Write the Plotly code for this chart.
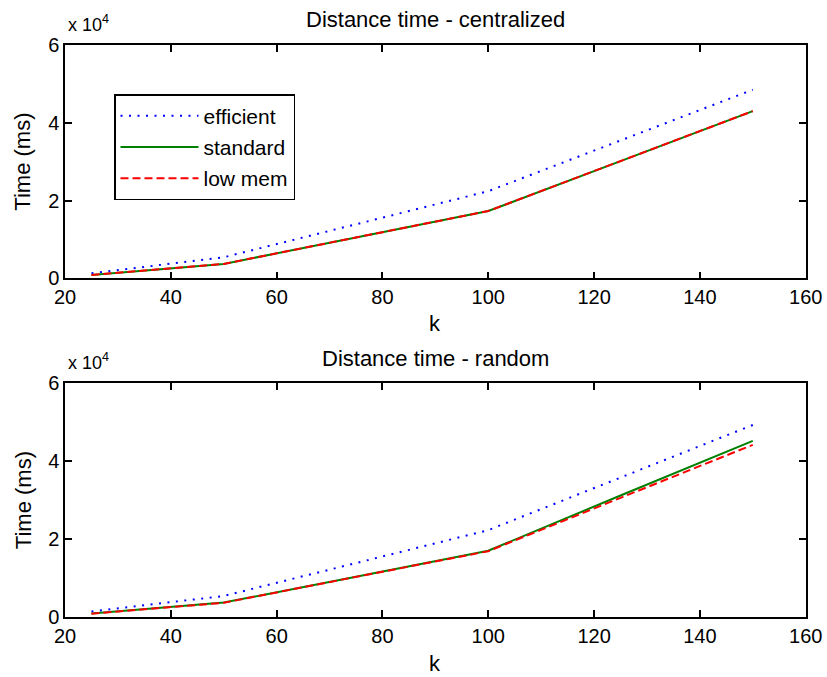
import plotly.graph_objects as go

# ---- data ----
k = [25, 50, 75, 100, 125, 150]

cent_efficient = [1300, 5400, 13900, 22400, 35450, 48500]
cent_standard = [850, 3700, 10500, 17300, 30150, 43000]
cent_lowmem = [850, 3700, 10500, 17300, 30150, 43000]

rand_efficient = [1400, 5400, 13850, 22300, 35800, 49300]
rand_standard = [900, 3700, 10350, 17000, 31200, 45200]
rand_lowmem = [850, 3650, 10300, 16900, 30600, 44200]

series_names = ["efficient", "standard", "low mem"]
x_tickvals = [20, 40, 60, 80, 100, 120, 140, 160]
y_tickvals = [0, 20000, 40000, 60000]
y_ticktext = ["0", "2", "4", "6"]

W, H = 827, 677
FONT = "Liberation Sans, Arial, sans-serif"

styles = [
    dict(color="#0000ff", width=2, dash="2px,6.5px"),
    dict(color="#008000", width=2, dash="solid"),
    dict(color="#ff0000", width=2, dash="8px,4px"),
]

fig = go.Figure()

top = [cent_efficient, cent_standard, cent_lowmem]
bot = [rand_efficient, rand_standard, rand_lowmem]
for i, (name, ys) in enumerate(zip(series_names, top)):
    fig.add_trace(go.Scatter(x=k, y=ys, mode="lines", name=name, line=styles[i],
                             xaxis="x", yaxis="y", legendgroup=name, showlegend=True))
for i, (name, ys) in enumerate(zip(series_names, bot)):
    fig.add_trace(go.Scatter(x=k, y=ys, mode="lines", name=name, line=styles[i],
                             xaxis="x2", yaxis="y2", showlegend=False))

# plot area positions (pixels)
xl, xr = 65, 805.7
t_top, t_bot = 45, 278.3
b_top, b_bot = 383.3, 617

def px_x(p):
    return p / W

def px_y(p):
    return 1 - p / H

axis_common = dict(showline=True, linecolor="black", linewidth=1.5, mirror="ticks",
                   ticks="inside", ticklen=7, tickwidth=1.5, tickcolor="black",
                   showgrid=False, zeroline=False, automargin=False,
                   tickfont=dict(family=FONT, size=20, color="black"))

fig.update_layout(
    width=W, height=H,
    margin=dict(l=0, r=0, t=0, b=0, autoexpand=False),
    paper_bgcolor="white", plot_bgcolor="white",
    font=dict(family=FONT, color="black"),
    xaxis=dict(domain=[px_x(xl), px_x(xr)], anchor="y", range=[20, 160],
               tickvals=x_tickvals, **axis_common),
    yaxis=dict(domain=[px_y(t_bot), px_y(t_top)], anchor="x", range=[0, 60000],
               tickvals=y_tickvals, ticktext=y_ticktext, **axis_common),
    xaxis2=dict(domain=[px_x(xl), px_x(xr)], anchor="y2", range=[20, 160],
                tickvals=x_tickvals, **axis_common),
    yaxis2=dict(domain=[px_y(b_bot), px_y(b_top)], anchor="x2", range=[0, 60000],
                tickvals=y_tickvals, ticktext=y_ticktext, **axis_common),
    legend=dict(x=px_x(114), y=px_y(94), xanchor="left", yanchor="top",
                bordercolor="black", borderwidth=1.5, bgcolor="white",
                font=dict(family=FONT, size=21, color="black"),
                itemwidth=78, tracegroupgap=1),
    showlegend=True,
)

cx = px_x((xl + xr) / 2)
ann = []
for (ttl, ycen, kyc, top_px, bot_px) in [
    ("Distance time - centralized", 19.5, 324, t_top, t_bot),
    ("Distance time - random", 358, 663, b_top, b_bot),
]:
    ann.append(dict(text=ttl, x=cx, y=px_y(ycen), xref="paper", yref="paper",
                    xanchor="center", yanchor="middle", showarrow=False,
                    font=dict(family=FONT, size=22, color="black")))
    ann.append(dict(text="k", x=cx, y=px_y(kyc), xref="paper", yref="paper",
                    xanchor="center", yanchor="middle", showarrow=False,
                    font=dict(family=FONT, size=22, color="black")))
    ann.append(dict(text="Time (ms)", x=px_x(23), y=px_y((top_px + bot_px) / 2),
                    xref="paper", yref="paper", xanchor="center", yanchor="middle",
                    textangle=-90, showarrow=False,
                    font=dict(family=FONT, size=22, color="black")))
    ann.append(dict(text="x 10<sup>4</sup>", x=px_x(66), y=px_y(top_px - 8),
                    xref="paper", yref="paper", xanchor="left", yanchor="bottom",
                    showarrow=False, font=dict(family=FONT, size=18, color="black")))
fig.update_layout(annotations=ann)

fig.write_html(
    "out.html",
    config={"displayModeBar": False},
    post_script="document.body.style.margin='0';"
                "document.body.style.overflow='hidden';"
                "document.documentElement.style.overflow='hidden';",
)
